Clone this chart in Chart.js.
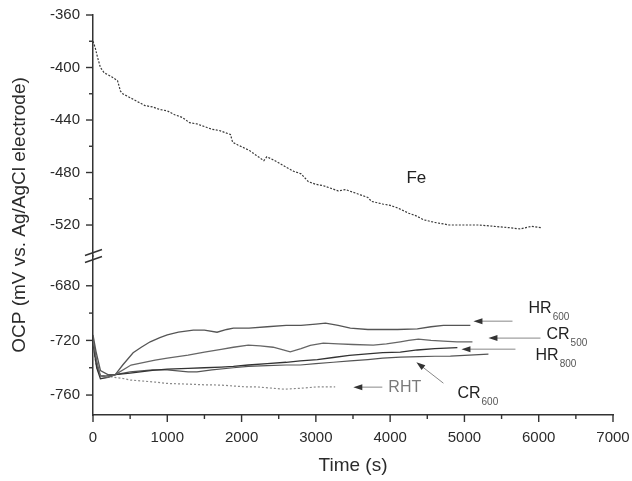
<!DOCTYPE html>
<html lang="en">
<head>
  <meta charset="UTF-8">
  <title>OCP vs Time</title>
  <script src="https://cdn.jsdelivr.net/npm/chart.js"></script>
  <style>
    html, body { margin: 0; padding: 0; background: #fff; }
    .chart-container { position: relative; width: 632px; height: 481px; }
  </style>
</head>
<body>
  <div class="chart-container">
    <canvas id="ocpChart" width="632" height="481"></canvas>
  </div>

  <script>
    // Fe (upper part of the broken axis)
    const feTime = [0, 30, 60, 100, 150, 250, 330, 370, 400, 500, 600, 700, 800, 900, 1000, 1100, 1200, 1300, 1400, 1500,
      1600, 1700, 1850, 1880, 1950, 2100, 2200, 2300, 2340, 2450, 2600, 2700, 2800, 2900, 3000, 3100, 3200, 3300, 3400,
      3500, 3600, 3700, 3750, 3900, 4000, 4100, 4250, 4350, 4450, 4600, 4800, 5000, 5200, 5400, 5600, 5750, 5900, 6030];
    const feOcp = [-380, -385, -392, -400, -404, -407, -410, -418, -420, -423, -426, -429, -430, -432, -433, -436, -438, -442, -443, -445,
      -447, -448, -451, -457, -459, -463, -467, -471, -468, -471, -476, -479, -481, -487, -489, -490, -492, -494, -493,
      -495, -497, -499, -502, -504, -505, -507, -511, -513, -516, -518, -520, -520, -520, -521, -522, -523, -521, -522];

    // lower part of the broken axis
    const hr600Time = [0, 40, 100, 200, 300, 400, 540, 650, 770, 900, 1000, 1150, 1350, 1500, 1670, 1800, 1890, 2100, 2345, 2600,
      2800, 3000, 3130, 3300, 3464, 3700, 3908, 4100, 4366, 4550, 4717, 4900, 5080];
    const hr600Ocp = [-716, -728, -742, -745, -745, -738, -729, -725, -721, -718, -716, -714, -712.5, -712.5, -714, -712, -711, -711, -710, -709,
      -709, -708, -707.4, -709, -711, -712, -712, -712, -711.6, -710, -709, -709, -709];

    const cr500Time = [0, 50, 100, 200, 300, 512, 836, 1000, 1280, 1500, 1725, 1890, 2090, 2250, 2425, 2560, 2655, 2800, 2925, 3100,
      3300, 3500, 3773, 3950, 4137, 4250, 4380, 4550, 4717, 4900, 5108];
    const cr500Ocp = [-720, -735, -746, -747, -745, -738, -734.5, -733, -730.8, -728.5, -726.5, -725, -723.5, -724, -725, -727, -728.4, -726, -723.7, -722,
      -722.5, -723, -723.5, -722.5, -721, -720, -719, -720, -720.5, -721, -721];

    const hr800Time = [0, 50, 100, 200, 300, 500, 800, 1000, 1280, 1500, 1725, 1890, 2090, 2345, 2600, 2790, 3020, 3234, 3450, 3693,
      3900, 4137, 4366, 4600, 4905];
    const hr800Ocp = [-722, -740, -748, -747, -745, -744, -742, -741, -740.5, -740, -739.5, -739, -738, -737, -736, -735, -734, -732.5, -731, -729.8,
      -729, -728.6, -727, -726, -725.3];

    const cr600Time = [0, 50, 100, 200, 300, 500, 800, 1000, 1280, 1400, 1600, 1890, 2090, 2345, 2600, 2790, 3000, 3234, 3464, 3700,
      3900, 4137, 4400, 4600, 4811, 5000, 5323];
    const cr600Ocp = [-718, -738, -746, -746, -745, -743, -741.5, -741.5, -743, -743, -741.5, -740, -739, -738.5, -738, -738, -737, -736, -735, -734,
      -733, -732.3, -731.8, -731.6, -731.5, -731, -730];

    const rhtTime = [0, 50, 100, 200, 270, 380, 500, 836, 1000, 1280, 1500, 1725, 2050, 2200, 2575, 2800, 3020, 3234, 3260];
    const rhtOcp = [-725, -740, -746, -746, -747, -747.6, -749, -750.5, -751.5, -752, -752.5, -752.7, -754, -754, -755.7, -755, -754, -754, -754];

    // curve labels (text, subscript, time, OCP baseline)
    const labelText = ['HR', 'CR', 'HR', 'RHT', 'CR'];
    const labelSub = ['600', '500', '800', '', '600'];
    const labelTime = [5863, 6105, 5957, 3976, 4906];
    const labelOcp = [-700, -719, -734.4, -757.9, -762.3];

    // arrows (tail -> head)
    const arrowTailTime = [5647, 6024, 5687, 3895, 4717];
    const arrowTailOcp = [-705.9, -718.3, -726.4, -754.2, -751.3];
    const arrowHeadTime = [5121, 5323, 4960, 3504, 4353];
    const arrowHeadOcp = [-705.9, -718.3, -726.4, -754.2, -735.9];

    const FONT = "'Liberation Sans', Arial, sans-serif";
    const INK = '#2b2b2b';

    function toPoints(xs, ys) {
      return xs.map((x, i) => ({ x: x, y: ys[i] }));
    }

    function noOverflow(sc) {
      sc.paddingLeft = 0;
      sc.paddingRight = 0;
      sc.paddingTop = 0;
      sc.paddingBottom = 0;
    }

    // ticks, axis titles, axis break and annotations
    const decorPlugin = {
      id: 'decor',
      afterDraw(chart) {
        const ctx = chart.ctx;
        const area = chart.chartArea;
        const xs = chart.scales.x;
        const yTop = chart.scales.yTop;
        const yBot = chart.scales.yBot;
        ctx.save();

        // tick marks
        ctx.strokeStyle = '#333';
        ctx.lineWidth = 1.4;
        xs.ticks.forEach(t => {
          const px = xs.getPixelForValue(t.value);
          const len = t.value % 1000 === 0 ? 7 : 4;
          ctx.beginPath();
          ctx.moveTo(px, area.bottom);
          ctx.lineTo(px, area.bottom + len);
          ctx.stroke();
        });
        [yTop, yBot].forEach(sc => {
          sc.ticks.forEach(t => {
            const py = sc.getPixelForValue(t.value);
            const len = t.value % 40 === 0 ? 7 : 4;
            ctx.beginPath();
            ctx.moveTo(area.left, py);
            ctx.lineTo(area.left - len, py);
            ctx.stroke();
          });
        });

        // axis break
        const by = yTop.bottom;
        ctx.lineWidth = 1.5;
        [-3.5, 3.5].forEach(d => {
          ctx.beginPath();
          ctx.moveTo(area.left - 8, by + d + 3);
          ctx.lineTo(area.left + 9, by + d - 3);
          ctx.stroke();
        });

        // axis titles
        ctx.fillStyle = INK;
        ctx.font = '19px ' + FONT;
        ctx.textAlign = 'center';
        ctx.textBaseline = 'middle';
        ctx.fillText('Time (s)', (area.left + area.right) / 2, area.bottom + 51);
        ctx.save();
        ctx.translate(20, (area.top + area.bottom) / 2);
        ctx.rotate(-Math.PI / 2);
        ctx.fillText('OCP (mV vs. Ag/AgCl electrode)', 0, 0);
        ctx.restore();

        // Fe label
        ctx.font = '17px ' + FONT;
        ctx.textBaseline = 'alphabetic';
        ctx.fillStyle = '#222';
        ctx.fillText('Fe', xs.getPixelForValue(4353), yTop.getPixelForValue(-488));

        // arrows
        arrowTailTime.forEach((t, i) => {
          const x1 = xs.getPixelForValue(t);
          const y1 = yBot.getPixelForValue(arrowTailOcp[i]);
          const x2 = xs.getPixelForValue(arrowHeadTime[i]);
          const y2 = yBot.getPixelForValue(arrowHeadOcp[i]);
          const ang = Math.atan2(y2 - y1, x2 - x1);
          ctx.strokeStyle = '#888';
          ctx.lineWidth = 1;
          ctx.beginPath();
          ctx.moveTo(x1, y1);
          ctx.lineTo(x2 - 8 * Math.cos(ang), y2 - 8 * Math.sin(ang));
          ctx.stroke();
          ctx.fillStyle = '#333';
          ctx.beginPath();
          ctx.moveTo(x2, y2);
          ctx.lineTo(x2 - 9 * Math.cos(ang) + 3 * Math.sin(ang), y2 - 9 * Math.sin(ang) - 3 * Math.cos(ang));
          ctx.lineTo(x2 - 9 * Math.cos(ang) - 3 * Math.sin(ang), y2 - 9 * Math.sin(ang) + 3 * Math.cos(ang));
          ctx.closePath();
          ctx.fill();
        });

        // curve labels
        ctx.textAlign = 'left';
        labelText.forEach((txt, i) => {
          const x = xs.getPixelForValue(labelTime[i]);
          const y = yBot.getPixelForValue(labelOcp[i]);
          ctx.fillStyle = txt === 'RHT' ? '#7a7a7a' : '#222';
          ctx.font = '16px ' + FONT;
          ctx.fillText(txt, x, y);
          if (labelSub[i]) {
            const w = ctx.measureText(txt).width;
            ctx.font = '10px ' + FONT;
            ctx.fillStyle = '#555';
            ctx.fillText(labelSub[i], x + w + 1, y + 7);
          }
        });

        ctx.restore();
      }
    };

    const lineStyle = (color, dash, width) => ({
      borderColor: color,
      borderWidth: width,
      borderDash: dash,
      pointRadius: 0,
      fill: false,
      tension: 0
    });

    const yCommon = {
      type: 'linear',
      position: 'left',
      stack: 'ocp',
      offset: false,
      grid: { display: false, drawTicks: false },
      border: { display: true, color: '#333', width: 1.5 },
      afterFit: sc => { sc.width = 93; noOverflow(sc); }
    };
    const tickFont = { family: FONT, size: 15 };

    new Chart(document.getElementById('ocpChart').getContext('2d'), {
      type: 'line',
      data: {
        datasets: [
          Object.assign({ label: 'Fe', yAxisID: 'yTop', data: toPoints(feTime, feOcp) }, lineStyle('#3a3a3a', [2, 1.5], 1.2)),
          Object.assign({ label: 'HR600', yAxisID: 'yBot', data: toPoints(hr600Time, hr600Ocp) }, lineStyle('#555', [], 1.3)),
          Object.assign({ label: 'CR500', yAxisID: 'yBot', data: toPoints(cr500Time, cr500Ocp) }, lineStyle('#666', [], 1.3)),
          Object.assign({ label: 'HR800', yAxisID: 'yBot', data: toPoints(hr800Time, hr800Ocp) }, lineStyle('#333', [], 1.3)),
          Object.assign({ label: 'CR600', yAxisID: 'yBot', data: toPoints(cr600Time, cr600Ocp) }, lineStyle('#555', [], 1.2)),
          Object.assign({ label: 'RHT', yAxisID: 'yBot', data: toPoints(rhtTime, rhtOcp) }, lineStyle('#8a8a8a', [2, 2], 1.2))
        ]
      },
      options: {
        responsive: false,
        animation: false,
        devicePixelRatio: 1,
        layout: { padding: { top: 15, right: 19, bottom: 0, left: 0 } },
        plugins: {
          legend: { display: false },
          tooltip: { enabled: false }
        },
        scales: {
          x: {
            type: 'linear',
            min: 0,
            max: 7000,
            offset: false,
            grid: { display: false, drawTicks: false },
            border: { display: true, color: '#333', width: 1.5 },
            ticks: {
              stepSize: 500,
              autoSkip: false,
              maxRotation: 0,
              padding: 14,
              color: INK,
              font: tickFont,
              callback: v => (v % 1000 === 0 ? v : '')
            },
            afterFit: sc => { sc.height = 66; noOverflow(sc); }
          },
          yBot: Object.assign({}, yCommon, {
            min: -774.6,
            max: -658.2,
            stackWeight: 159,
            ticks: {
              stepSize: 20, includeBounds: false, autoSkip: false, padding: 13, color: INK, font: tickFont,
              callback: v => (v % 40 === 0 ? v : '')
            },
            afterBuildTicks: sc => { sc.ticks = sc.ticks.filter(t => t.value <= -670); }
          }),
          yTop: Object.assign({}, yCommon, {
            min: -543.6,
            max: -360,
            stackWeight: 241,
            ticks: {
              stepSize: 20, includeBounds: false, autoSkip: false, padding: 13, color: INK, font: tickFont,
              callback: v => (v % 40 === 0 ? v : '')
            },
            afterBuildTicks: sc => { sc.ticks = sc.ticks.filter(t => t.value >= -530); }
          })
        }
      },
      plugins: [decorPlugin]
    });
  </script>
</body>
</html>
